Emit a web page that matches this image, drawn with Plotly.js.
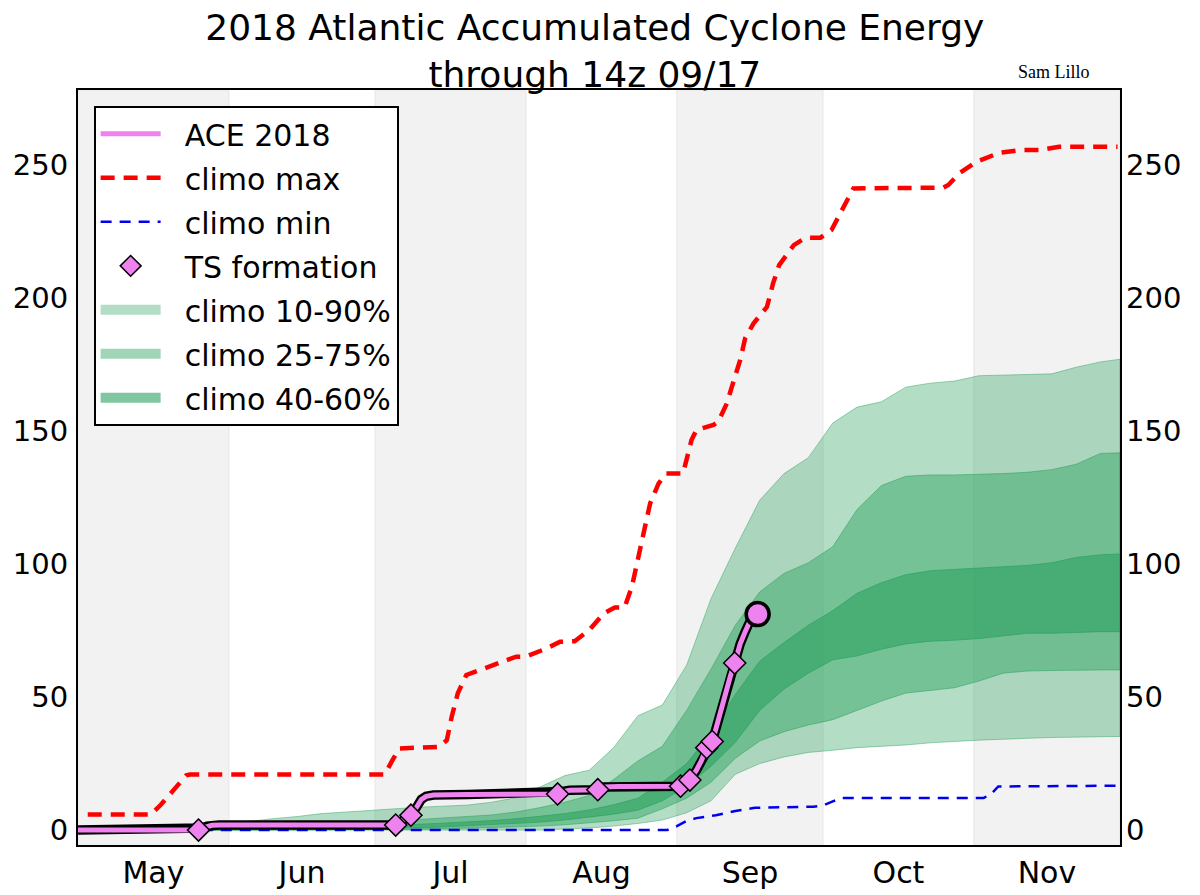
<!DOCTYPE html>
<html><head><meta charset="utf-8">
<script src="https://cdn.plot.ly/plotly-3.0.1.min.js"></script>
<style>html,body{margin:0;padding:0;background:#fff}#chart{width:1200px;height:895px}</style>
</head><body><div id="chart"></div>
<script>
// ---------- data ----------
const monthNames = ['May','Jun','Jul','Aug','Sep','Oct','Nov'];
const monthStarts = ['2018-05-01','2018-06-01','2018-07-01','2018-08-01','2018-09-01','2018-10-01','2018-11-01','2018-12-01'];

const climoDates = ['2018-05-01','2018-05-06','2018-05-11','2018-05-16','2018-05-21','2018-05-26','2018-05-31',
  '2018-06-05','2018-06-10','2018-06-15','2018-06-20','2018-06-25','2018-06-30',
  '2018-07-05','2018-07-10','2018-07-15','2018-07-20','2018-07-25','2018-07-30',
  '2018-08-04','2018-08-09','2018-08-14','2018-08-19','2018-08-24','2018-08-29',
  '2018-09-03','2018-09-08','2018-09-13','2018-09-18','2018-09-23','2018-09-28',
  '2018-10-03','2018-10-08','2018-10-13','2018-10-18','2018-10-23','2018-10-28',
  '2018-11-02','2018-11-07','2018-11-12','2018-11-17','2018-11-22','2018-11-27','2018-12-01'];
const p90 = [0,0.1,0.3,0.6,1.2,1.7,2.3,3.2,4.3,5.1,6.2,6.8,7.4,8.2,8.6,9.0,9.4,10.5,12.2,16.3,20.5,22.5,31,43,47,62,87,106,124,134,140,153,159,161,166.5,168,168.8,170.8,171,171.2,171.5,174,176,177];
const p75 = [0,0,0.1,0.2,0.3,0.5,0.7,1.0,1.3,1.6,2.0,2.4,2.8,3.4,4.0,4.5,5.0,5.7,6.8,8.5,10.5,13,19,26,31.5,45,60.5,77,89.5,96.5,100.5,106.5,120.5,129.5,133,133.5,133.5,133.7,134,134.5,135.5,137.5,141.6,141.8];
const p60 = [0,0,0,0,0,0.1,0.2,0.3,0.4,0.6,0.8,1.1,1.4,1.8,2.2,2.6,3.0,3.6,4.3,5.2,6.2,7.6,9.5,12,18,25,36.5,51,63.5,70.5,77,82.5,89,93,96,97.5,98,98.5,99,99.5,100.5,102.5,103.5,103.8];
const p40 = [0,0,0,0,0,0,0,0,0.1,0.2,0.3,0.4,0.5,0.7,0.9,1.2,1.5,2.0,2.5,3.0,3.8,4.8,6.0,7.5,11,16.5,24,33,45,53,59,64,65.5,68,70,71,71.4,72,73,74,74,74.3,74.6,74.6];
const p25 = [0,0,0,0,0,0,0,0,0,0,0,0,0.1,0.2,0.3,0.5,0.7,0.9,1.2,1.5,2.0,2.7,3.5,4.5,8,12,18,27,33.5,37,39.5,41.5,45,48.5,51.5,52.5,53.5,56,59,59.8,60,60.2,60.2,60.2];
const p10 = [0,0,0,0,0,0,0,0,0,0,0,0,0,0,0,0,0,0,0,0,0.3,0.8,1.5,2.5,3.8,6.5,11,21,25,27.5,29.2,30,31,31.5,32,32.8,33.3,33.8,34.2,34.5,34.8,35,35.1,35.2];

const maxDates = ['2018-05-03','2018-05-16','2018-05-18','2018-05-21','2018-05-23 06:00','2018-05-24','2018-07-03',
  '2018-07-04 12:00','2018-07-06','2018-07-14 06:00','2018-07-15 18:00','2018-07-16 18:00','2018-07-18','2018-07-19 18:00',
  '2018-07-23 06:00','2018-07-28','2018-07-30','2018-08-01','2018-08-05 06:00','2018-08-08','2018-08-11','2018-08-14',
  '2018-08-17','2018-08-19 06:00','2018-08-21 06:00','2018-08-22 18:00','2018-08-23 18:00','2018-08-25','2018-08-26 12:00',
  '2018-08-28 06:00','2018-08-29 18:00','2018-09-02 06:00','2018-09-04','2018-09-05','2018-09-08 12:00','2018-09-09 12:00',
  '2018-09-11 06:00','2018-09-12 12:00','2018-09-14','2018-09-15','2018-09-16 18:00','2018-09-19 12:00','2018-09-20 18:00',
  '2018-09-22','2018-09-25','2018-09-27 12:00','2018-09-30 12:00','2018-10-02 18:00','2018-10-05','2018-10-07 06:00',
  '2018-10-25 18:00','2018-10-26 18:00','2018-10-29','2018-11-01 12:00','2018-11-06 06:00','2018-11-10 12:00',
  '2018-11-14 12:00','2018-11-16 12:00','2018-11-18 12:00','2018-11-30 12:00'];
const maxValues = [5.9,5.9,9.5,16,20.6,20.9,20.9,
  26,30.7,31.3,33.8,42.6,51.4,58.3,
  60.8,63.9,65.2,65.2,68.3,70.8,71,75.2,
  81.5,83.7,83.7,91.5,100.3,111.5,122.8,
  130.3,134,134,146.6,150.4,152.3,153.5,
  160.4,167.9,176.7,184.8,190.5,196.7,205.5,
  212.4,219.9,222.7,222.7,225.6,233.7,241.2,
  241.5,242.5,246.9,251.2,254.6,255.6,
  255.6,256.3,256.9,256.9];

const minDates = ['2018-05-03','2018-08-30','2018-09-01','2018-09-03','2018-09-05','2018-09-09','2018-09-13','2018-09-17',
  '2018-09-29','2018-10-01','2018-10-03','2018-10-05','2018-11-03','2018-11-04 12:00','2018-11-06','2018-11-30 12:00'];
const minValues = [0,0,1.5,3.5,4.5,5.6,7.2,8.4,8.8,9.2,10.8,12.1,12.1,13.5,16.4,16.7];

const aceDates = ['2018-05-01','2018-05-25 18:00','2018-05-26 12:00','2018-05-27 12:00','2018-05-28 12:00','2018-05-30',
  '2018-07-05 06:00','2018-07-06 12:00','2018-07-08 09:00','2018-07-09 12:00','2018-07-10 12:00','2018-07-11 12:00',
  '2018-07-13','2018-07-20','2018-08-07 12:00','2018-08-08 12:00','2018-08-10','2018-08-15 18:00','2018-08-17',
  '2018-08-20','2018-09-01 18:00','2018-09-02 12:00','2018-09-03 16:00','2018-09-05','2018-09-06','2018-09-07 03:00',
  '2018-09-08 06:00','2018-09-09','2018-09-10','2018-09-11','2018-09-12','2018-09-12 21:00','2018-09-14',
  '2018-09-15','2018-09-16','2018-09-17 14:00'];
const aceValues = [0,0,0.8,1.5,1.8,1.9,
  1.9,3.5,5.6,8.5,11.5,12.7,
  13.2,13.4,13.6,14.5,15.0,15.2,16.2,
  16.4,16.5,17.5,18.8,22.5,26,31.0,
  33.3,38,45,52,58,62.8,70,
  74.5,78.5,81.2];

const tsNames = ['Alberto','Beryl','Chris','Debby','Ernesto','Florence','Gordon','Helene','Isaac','Joyce'];
const tsDates = ['2018-05-25 18:00','2018-07-05 06:00','2018-07-08 09:00','2018-08-07 12:00','2018-08-15 18:00',
  '2018-09-01 18:00','2018-09-03 16:00','2018-09-07 03:00','2018-09-08 06:00','2018-09-12 21:00'];
const tsValues = [0,1.9,5.6,13.6,15.2,16.5,18.8,31.0,33.3,62.8];

const yTicks = [0,50,100,150,200,250];
const yRange = [-5.6, 278.2];

// ---------- build ----------
const G = 'rgba(44,162,95,';
const PAD = '\u00a0\u00a0';
function band(upper, lower, alpha, name){
  return {x: climoDates.concat(climoDates.slice().reverse()),
          y: upper.concat(lower.slice().reverse()),
          type:'scatter', mode:'lines', fill:'toself', fillcolor: G+alpha+')',
          line:{color: G+Math.min(1,alpha+0.1)+')', width:1}, showlegend:false, hoverinfo:'skip', name:name};
}
function legendBand(alpha, name, rank){
  return {x:[null], y:[null], type:'scatter', mode:'lines', name:PAD+name, legendrank:rank, legendgroup:'g'+rank,
          line:{color: G+alpha+')', width:23}};
}
const traces = [
  band(p90, p10, 0.36, 'climo 10-90%'),
  band(p75, p25, 0.45, 'climo 25-75%'),
  band(p60, p40, 0.6, 'climo 40-60%'),
  {x:maxDates, y:maxValues, type:'scatter', mode:'lines', name:PAD+'climo max', legendrank:2, legendgroup:'g2',
   line:{color:'#ff0000', width:4.5, dash:'14px,9px'}},
  {x:minDates, y:minValues, type:'scatter', mode:'lines', name:PAD+'climo min', legendrank:3, legendgroup:'g3',
   line:{color:'#0000ee', width:2.5, dash:'11px,8px'}},
  {x:aceDates, y:aceValues, type:'scatter', mode:'lines', showlegend:false, hoverinfo:'skip',
   line:{color:'#000000', width:9.5}},
  {x:aceDates, y:aceValues, type:'scatter', mode:'lines', name:PAD+'ACE 2018', legendrank:1, legendgroup:'g1',
   line:{color:'#ee82ee', width:5}},
  {x:tsDates, y:tsValues, text:tsNames, type:'scatter', mode:'markers', name:PAD+'TS formation', legendrank:4, legendgroup:'g4',
   marker:{symbol:'diamond', size:17, color:'#ee82ee', line:{color:'#000000', width:1.5}}},
  {x:[aceDates[aceDates.length-1]], y:[aceValues[aceValues.length-1]], type:'scatter', mode:'markers', showlegend:false,
   marker:{symbol:'circle', size:23, color:'#ee82ee', line:{color:'#000000', width:3.5}}},
  legendBand(0.36, 'climo 10-90%', 5),
  legendBand(0.45, 'climo 25-75%', 6),
  legendBand(0.6, 'climo 40-60%', 7),
  {x:[null], y:[null], yaxis:'y2', type:'scatter', mode:'lines', showlegend:false, hoverinfo:'skip'}
];

const shapes = [];
for (let i = 0; i < monthNames.length; i += 2) {
  shapes.push({type:'rect', xref:'x', yref:'paper', x0:monthStarts[i], x1:monthStarts[i+1], y0:0, y1:1,
    fillcolor:'#f2f2f2', line:{color:'#e6e6e6', width:1}, layer:'below'});
}
const tickVals = monthNames.map((m,i) => {
  const a = Date.parse(monthStarts[i]), b = Date.parse(monthStarts[i+1]);
  return new Date((a+b)/2).toISOString().slice(0,19).replace('T',' ');
});

const FONT = 'DejaVu Sans, sans-serif';
const layout = {
  width:1200, height:895,
  margin:{l:78, r:80, t:90, b:50},
  paper_bgcolor:'#ffffff', plot_bgcolor:'#ffffff',
  font:{family:FONT, size:29, color:'#000'},
  title:{text:'2018 Atlantic Accumulated Cyclone Energy<br>through 14z 09/17', font:{family:FONT, size:36, color:'#000'},
         x:0.496, xref:'paper', xanchor:'center', y:0.955, yref:'container', yanchor:'top'},
  showlegend:true,
  legend:{x:0.015, y:0.979, xanchor:'left', yanchor:'top', bgcolor:'#ffffff', bordercolor:'#000000', borderwidth:2,
          font:{family:FONT, size:30, color:'#000'}, tracegroupgap:2, itemwidth:60, traceorder:'grouped'},
  xaxis:{type:'date', range:[monthStarts[0], monthStarts[monthStarts.length-1]], tickmode:'array', tickvals:tickVals,
         ticktext:monthNames, ticks:'', showgrid:false, zeroline:false, showline:true, mirror:true,
         linecolor:'#000', linewidth:2, tickfont:{family:FONT, size:30}, fixedrange:true},
  yaxis:{range:yRange, tickmode:'array', tickvals:yTicks, ticks:'', showgrid:false, zeroline:false,
         showline:true, mirror:true, linecolor:'#000', linewidth:2, tickfont:{family:FONT, size:29}, ticklabelstandoff:2},
  yaxis2:{range:yRange, overlaying:'y', side:'right', tickmode:'array', tickvals:yTicks, ticks:'', showgrid:false,
          zeroline:false, showline:false, tickfont:{family:FONT, size:29}, ticklabelstandoff:5},
  shapes:shapes,
  annotations:[{text:'Sam Lillo', xref:'paper', yref:'paper', x:0.937, y:1.024, xanchor:'center', yanchor:'middle',
                showarrow:false, font:{family:'Liberation Serif, serif', size:18, color:'#000'}}]
};
Plotly.newPlot('chart', traces, layout, {displayModeBar:false, staticPlot:true});
</script></body></html>
